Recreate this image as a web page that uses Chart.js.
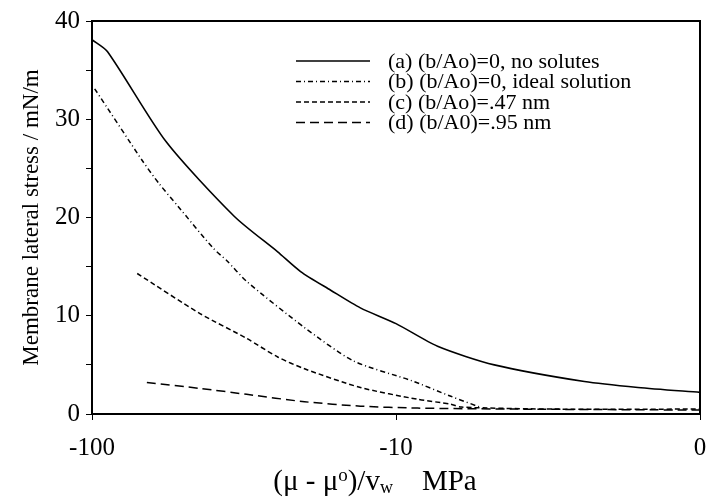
<!DOCTYPE html>
<html>
<head>
<meta charset="utf-8">
<script src="https://cdn.jsdelivr.net/npm/chart.js@4"></script>
<style>
  body { margin: 0; background: #fff; }
  #wrap { width: 706px; height: 497px; }
</style>
</head>
<body>
<div id="wrap"><canvas id="stressChart"></canvas></div>
<script>
// x values are |(mu - mu0)/vw| in MPa, axis is log and reversed (-100 on the left, "0" on the right)
var xTicks = [100, 10, 1];
var xTickLabels = ['-100', '-10', '0'];

var labels = ['(a) (b/Ao)=0, no solutes', '(b) (b/Ao)=0, ideal solution', '(c) (b/Ao)=.47 nm', '(d) (b/A0)=.95 nm'];

var aX = [100, 89, 57, 34, 24.5, 20.6, 16.4, 13.1, 10, 7.3, 4.75, 2.4, 1.6, 1];
var aY = [38.1, 36.9, 27.7, 20.1, 16.5, 14.5, 12.6, 10.8, 9.2, 6.9, 5.0, 3.3, 2.7, 2.2];

var bX = [98, 68, 60, 52, 40, 36, 31, 20, 13.8, 8.9, 6.6, 5.3];
var bY = [33.1, 25.7, 23.4, 21.1, 16.9, 15.6, 13.5, 8.8, 5.4, 3.4, 1.8, 0.7];

var cX = [71, 44, 31, 24.5, 20, 13.1, 8.5, 6.6, 6.1, 3, 1];
var cY = [14.3, 10.2, 7.7, 5.8, 4.6, 2.7, 1.5, 1.0, 0.7, 0.5, 0.5];

var dX = [66, 44, 31, 20, 13.1, 8.5, 4, 1];
var dY = [3.2, 2.6, 2.0, 1.25, 0.8, 0.6, 0.5, 0.4];

function pts(xs, ys) {
    return xs.map(function (x, i) { return { x: x, y: ys[i] }; });
}

const serif = '"Liberation Serif", "DejaVu Serif", serif';

// box around the plot + legend inside it + x title with sub/superscript
const extras = {
    id: 'extras',
    afterDraw(chart) {
        const ctx = chart.ctx;
        const a = chart.chartArea;
        ctx.save();
        ctx.strokeStyle = '#000';
        ctx.lineWidth = 2;
        ctx.strokeRect(a.left, a.top, a.right - a.left, a.bottom - a.top);

        // legend
        ctx.font = '22px ' + serif;
        ctx.textBaseline = 'middle';
        ctx.fillStyle = '#000';
        chart.data.datasets.forEach(function (ds, i) {
            var y = 61 + i * 20.5;
            ctx.beginPath();
            ctx.setLineDash(ds.borderDash || []);
            ctx.lineWidth = ds.borderWidth;
            ctx.moveTo(296, y);
            ctx.lineTo(370, y);
            ctx.stroke();
            ctx.setLineDash([]);
            ctx.fillText(ds.label, 388, y + 1);
        });

        // x axis title: (μ - μo)/vw   MPa
        var parts = [
            { t: '(\u03bc - \u03bc', s: 29, dy: 0 },
            { t: 'o', s: 19, dy: -9 },
            { t: ')/v', s: 29, dy: 0 },
            { t: 'w', s: 18, dy: 3 },
            { t: '    MPa', s: 29, dy: 0 }
        ];
        var total = 0;
        parts.forEach(function (p) { ctx.font = p.s + 'px ' + serif; total += ctx.measureText(p.t).width; });
        var x = 375 - total / 2;
        ctx.textBaseline = 'alphabetic';
        parts.forEach(function (p) {
            ctx.font = p.s + 'px ' + serif;
            ctx.fillText(p.t, x, 490 + p.dy);
            x += ctx.measureText(p.t).width;
        });
        ctx.restore();
    }
};

new Chart(document.getElementById('stressChart'), {
    type: 'line',
    data: {
        datasets: [
            { label: labels[0], data: pts(aX, aY), borderColor: '#000', borderWidth: 1.6 },
            { label: labels[1], data: pts(bX, bY), borderColor: '#000', borderWidth: 1.5, borderDash: [5, 3, 1, 3] },
            { label: labels[2], data: pts(cX, cY), borderColor: '#000', borderWidth: 1.5, borderDash: [5, 3] },
            { label: labels[3], data: pts(dX, dY), borderColor: '#000', borderWidth: 1.5, borderDash: [9, 5] }
        ]
    },
    options: {
        responsive: true,
        maintainAspectRatio: false,
        animation: false,
        layout: { padding: { top: 14, right: 6, left: 0, bottom: 0 } },
        elements: { point: { radius: 0 }, line: { tension: 0.25, fill: false } },
        plugins: { legend: { display: false }, tooltip: { enabled: false } },
        scales: {
            x: {
                type: 'logarithmic',
                reverse: true,
                min: 1,
                max: 100,
                afterBuildTicks: function (scale) {
                    scale.ticks = xTicks.map(function (v) { return { value: v }; });
                },
                afterFit: function (scale) {
                    scale.height = 83;
                    scale.paddingLeft = 0;
                    scale.paddingRight = 0;
                },
                ticks: {
                    color: '#000',
                    font: { family: serif, size: 25 },
                    padding: 13,
                    maxRotation: 0,
                    autoSkip: false,
                    callback: function (v) {
                        var i = xTicks.indexOf(v);
                        return i >= 0 ? xTickLabels[i] : '';
                    }
                },
                grid: { drawOnChartArea: false, color: '#000', tickLength: 6 },
                border: { color: '#000', width: 2 }
            },
            y: {
                min: 0,
                max: 40,
                afterFit: function (scale) { scale.width = 92; },
                ticks: {
                    stepSize: 5,
                    color: '#000',
                    font: { family: serif, size: 25 },
                    padding: 6,
                    callback: function (v) { return v % 10 === 0 ? v : ''; }
                },
                grid: { drawOnChartArea: false, color: '#000', tickLength: 6 },
                border: { color: '#000', width: 2 },
                title: {
                    display: true,
                    text: 'Membrane lateral stress / mN/m',
                    color: '#000',
                    font: { family: serif, size: 23 },
                    padding: { top: 18, bottom: 0 }
                }
            }
        }
    },
    plugins: [extras]
});
</script>
</body>
</html>
